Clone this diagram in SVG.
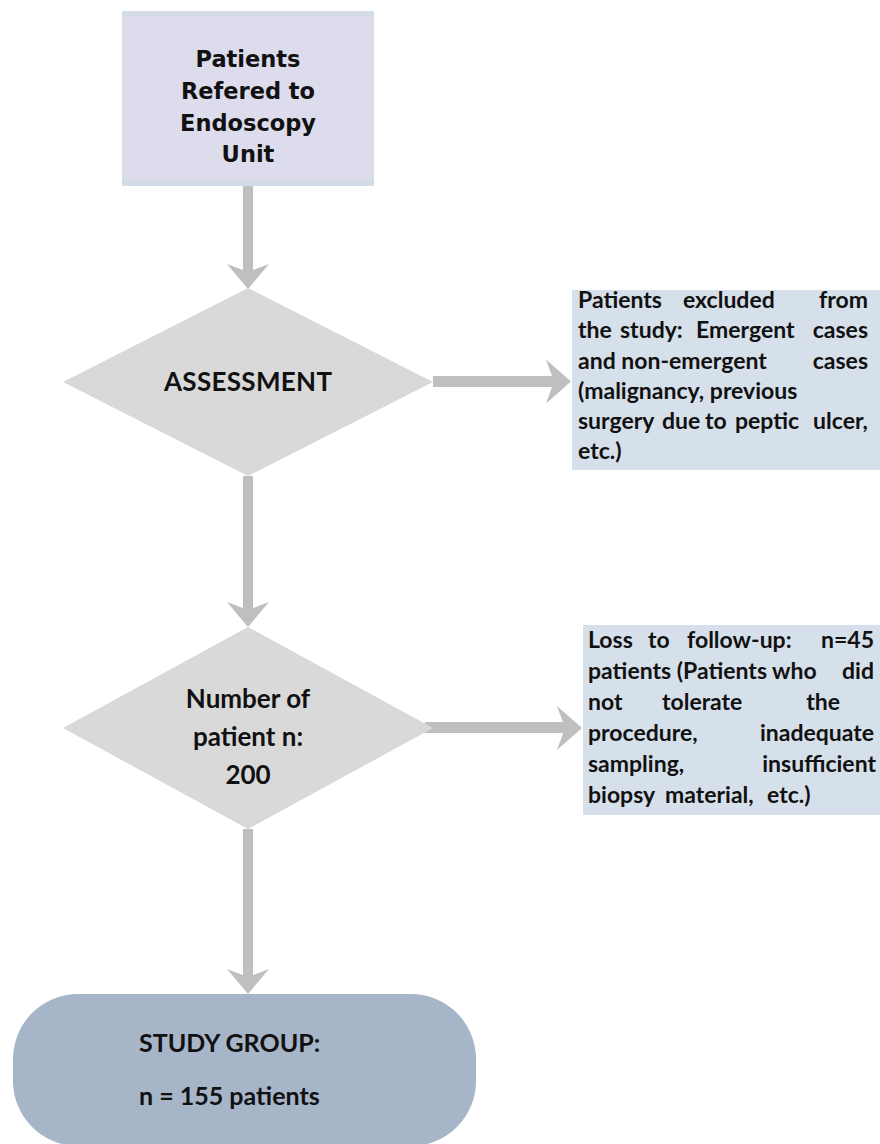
<svg xmlns="http://www.w3.org/2000/svg" width="880" height="1144" viewBox="0 0 880 1144">
<defs>
<style>
.bg{fill:#ffffff}
.top{fill:#dcdcec}
.strip{fill:#d3dce6}
.dia{fill:#d9d9d9}
.note{fill:#d6e0ea}
.term{fill:#a7b5c9}
.arr{fill:#bfbfbf}
.t1{font-family:"DejaVu Sans",sans-serif;font-weight:bold;font-size:22.5px;fill:#111;text-anchor:middle}
.t2{font-family:Lato,"Liberation Sans",sans-serif;font-weight:bold;font-size:26px;fill:#111;text-anchor:middle}
.t3{font-family:Lato,"Liberation Sans",sans-serif;font-weight:bold;font-size:23px;fill:#111}
.t3e{font-family:Lato,"Liberation Sans",sans-serif;font-weight:bold;font-size:23px;fill:#111;text-anchor:end}
.t4{font-family:Lato,"Liberation Sans",sans-serif;font-weight:bold;font-size:25px;fill:#111}
</style>
</defs>
<rect class="bg" x="0" y="0" width="880" height="1144"/>

<g id="connectors">
  <!-- top box to assessment -->
  <rect class="arr" x="243" y="185" width="10" height="92"/>
  <polygon class="arr" points="248,289 227,264 248,272 269,264"/>
  <!-- assessment to number -->
  <rect class="arr" x="243" y="476" width="10" height="139"/>
  <polygon class="arr" points="248,627 227,602 248,610 269,602"/>
  <!-- number to study group -->
  <rect class="arr" x="243" y="829" width="10" height="153"/>
  <polygon class="arr" points="248,994 227,969 248,977 269,969"/>
  <!-- assessment to exclusions -->
  <rect class="arr" x="433" y="376" width="126" height="11"/>
  <polygon class="arr" points="571,381.5 546,359.5 554,381.5 546,403.5"/>
  <!-- number to loss -->
  <rect class="arr" x="425" y="722" width="145" height="11"/>
  <polygon class="arr" points="582,728 557,706 565,728 557,750"/>
</g>

<g id="node-referred">
  <rect class="top" x="122" y="11" width="252" height="174"/>
  <rect class="strip" x="122" y="11" width="252" height="5"/>
  <rect class="strip" x="122" y="180" width="252" height="6"/>
  <text class="t1" x="248" y="67">Patients</text>
  <text class="t1" x="248" y="99">Refered to</text>
  <text class="t1" x="248" y="131">Endoscopy</text>
  <text class="t1" x="248" y="162">Unit</text>
</g>

<g id="node-assessment">
  <polygon class="dia" points="248,288 433,382 248,476 63,382"/>
  <text class="t2" x="248" y="391" textLength="168">ASSESSMENT</text>
</g>

<g id="node-excluded">
  <rect class="note" x="572" y="290" width="308" height="180"/>
  <text class="t3" y="308"><tspan x="578">Patients</tspan><tspan x="683">excluded</tspan></text>
  <text class="t3e" x="868" y="308">from</text>
  <text class="t3" y="338"><tspan x="578">the</tspan><tspan x="620">study:</tspan><tspan x="696">Emergent</tspan></text>
  <text class="t3e" x="868" y="338">cases</text>
  <text class="t3" x="578" y="369">and non-emergent</text>
  <text class="t3e" x="868" y="369">cases</text>
  <text class="t3" x="578" y="399">(malignancy, previous</text>
  <text class="t3" y="429"><tspan x="578">surgery</tspan><tspan x="662">due</tspan><tspan x="705">to</tspan><tspan x="735">peptic</tspan></text>
  <text class="t3e" x="868" y="429">ulcer,</text>
  <text class="t3" x="578" y="459">etc.)</text>
</g>

<g id="node-number">
  <polygon class="dia" points="248,627 433,728 248,829 63,728"/>
  <text class="t2" x="248" y="708">Number of</text>
  <text class="t2" x="248" y="746">patient n:</text>
  <text class="t2" x="248" y="784">200</text>
</g>

<g id="node-loss">
  <rect class="note" x="583" y="625" width="297" height="190"/>
  <text class="t3" y="648"><tspan x="588">Loss</tspan><tspan x="648">to</tspan><tspan x="687">follow-up:</tspan></text>
  <text class="t3e" x="874" y="648">n=45</text>
  <text class="t3" x="588" y="679">patients (Patients who</text>
  <text class="t3e" x="874" y="679">did</text>
  <text class="t3" y="710"><tspan x="588">not</tspan><tspan x="662">tolerate</tspan></text>
  <text class="t3e" x="840" y="710">the</text>
  <text class="t3" x="588" y="741">procedure,</text>
  <text class="t3e" x="874" y="741">inadequate</text>
  <text class="t3" x="588" y="772">sampling,</text>
  <text class="t3e" x="876" y="772">insufficient</text>
  <text class="t3" y="803"><tspan x="588">biopsy</tspan><tspan x="665">material,</tspan><tspan x="767">etc.)</tspan></text>
</g>

<g id="node-study">
  <rect class="term" x="13" y="994" width="463" height="152" rx="65" ry="65"/>
  <text class="t4" x="139" y="1052">STUDY GROUP:</text>
  <text class="t4" x="139" y="1105">n = 155 patients</text>
</g>
</svg>
